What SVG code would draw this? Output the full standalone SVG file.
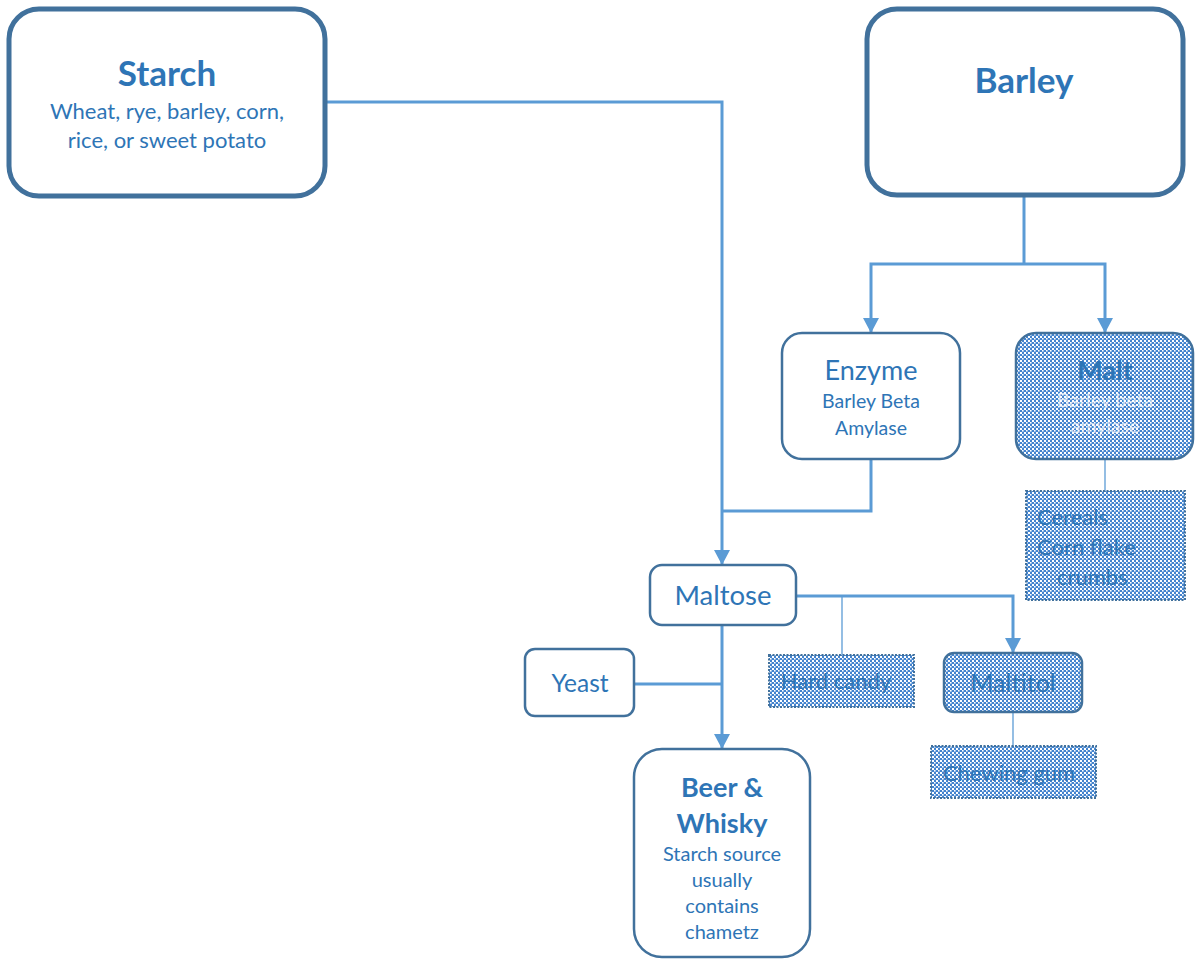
<svg xmlns="http://www.w3.org/2000/svg" width="1195" height="960" viewBox="0 0 1195 960">
  <style>
    .box { fill: #ffffff; stroke: #41719C; }
    .hatch { fill: url(#grid); stroke: #41719C; }
    .dotted { fill: url(#grid); stroke: #41719C; stroke-width: 2; stroke-dasharray: 2 1.5; }
    .t { font-family: Lato, "Liberation Sans", sans-serif; fill: #2E75B6; text-anchor: middle; }
    .s { text-anchor: start; }
    .b { font-weight: bold; }
    .w { fill: #ffffff; fill-opacity: 0.7; }
    .link { fill: none; stroke: #5B9BD5; stroke-width: 3; }
    .thin { fill: none; stroke: #5B9BD5; stroke-width: 1.3; }
  </style>
  <defs>
    <marker id="arrow" markerUnits="userSpaceOnUse" markerWidth="16" markerHeight="16" refX="15" refY="8" orient="auto">
      <path d="M0,0 L15,8 L0,16 z" fill="#5B9BD5"/>
    </marker>
    <!-- small blue/white grid fill -->
    <pattern id="grid" patternUnits="userSpaceOnUse" width="4" height="4">
      <rect width="4" height="4" fill="#4383CE"/>
      <rect x="0" y="0" width="2" height="2" fill="#ffffff"/>
      <rect x="2" y="2" width="1.6" height="1.6" fill="#ffffff"/>
    </pattern>
  </defs>

  <!-- connectors -->
  <g id="connectors">
    <path class="link" d="M325,102 H722 V565" marker-end="url(#arrow)"/>
    <path class="link" d="M871,459 V511 H722"/>
    <path class="link" d="M1024,197 V264"/>
    <path class="link" d="M1024,264 H871 V333" marker-end="url(#arrow)"/>
    <path class="link" d="M1024,264 H1105 V333" marker-end="url(#arrow)"/>
    <path class="link" d="M796,596 H1013 V653" marker-end="url(#arrow)"/>
    <path class="thin" d="M842,596 V655"/>
    <path class="link" d="M722,625 V749" marker-end="url(#arrow)"/>
    <path class="link" d="M634,684 H722"/>
    <path class="thin" d="M1105,459 V491"/>
    <path class="thin" d="M1013,712 V746"/>
  </g>

  <g id="starch">
    <rect class="box" x="9" y="9" width="316" height="187" rx="30" stroke-width="5"/>
    <text class="t b" x="167" y="86" font-size="35">Starch</text>
    <text class="t" x="167" y="119" font-size="22">Wheat, rye, barley, corn,</text>
    <text class="t" x="167" y="148" font-size="22">rice, or sweet potato</text>
  </g>

  <g id="barley">
    <rect class="box" x="867" y="9" width="316" height="186" rx="30" stroke-width="5"/>
    <text class="t b" x="1024" y="93" font-size="35">Barley</text>
  </g>

  <g id="enzyme">
    <rect class="box" x="782" y="333" width="178" height="126" rx="20" stroke-width="2.5"/>
    <text class="t" x="871" y="380" font-size="27">Enzyme</text>
    <text class="t" x="871" y="408" font-size="19.5">Barley Beta</text>
    <text class="t" x="871" y="435" font-size="19.5">Amylase</text>
  </g>

  <g id="malt">
    <rect class="hatch" x="1016" y="333" width="177" height="126" rx="20" stroke-width="2.5"/>
    <text class="t b" x="1105" y="380" font-size="27">Malt</text>
    <text class="t w" x="1105" y="407" font-size="19.5">Barley beta</text>
    <text class="t w" x="1105" y="433" font-size="19.5">amylase</text>
  </g>

  <g id="cereals">
    <rect class="dotted" x="1026" y="491" width="159" height="109"/>
    <text class="t s" x="1037" y="525" font-size="22">Cereals</text>
    <text class="t s" x="1037" y="555" font-size="22">Corn flake</text>
    <text class="t s" x="1057" y="585" font-size="22">crumbs</text>
  </g>

  <g id="maltose">
    <rect class="box" x="650" y="565" width="146" height="60" rx="12" stroke-width="2.5"/>
    <text class="t" x="723" y="605" font-size="27.5">Maltose</text>
  </g>

  <g id="hard-candy">
    <rect class="dotted" x="769" y="655" width="145" height="52"/>
    <text class="t" x="836" y="689" font-size="22">Hard candy</text>
  </g>

  <g id="maltitol">
    <rect class="hatch" x="944" y="653" width="138" height="59" rx="10" stroke-width="2.5"/>
    <text class="t" x="1013" y="692" font-size="25">Maltitol</text>
  </g>

  <g id="chewing-gum">
    <rect class="dotted" x="931" y="746" width="165" height="52"/>
    <text class="t" x="1009" y="781" font-size="22">Chewing gum</text>
  </g>

  <g id="yeast">
    <rect class="box" x="525" y="649" width="109" height="67" rx="10" stroke-width="2.5"/>
    <text class="t" x="580" y="692" font-size="24.5">Yeast</text>
  </g>

  <g id="beer-whisky">
    <rect class="box" x="634" y="749" width="176" height="208" rx="28" stroke-width="2.5"/>
    <text class="t b" x="722" y="797" font-size="27">Beer &amp;</text>
    <text class="t b" x="722" y="833" font-size="27">Whisky</text>
    <text class="t" x="722" y="861" font-size="20">Starch source</text>
    <text class="t" x="722" y="887" font-size="20">usually</text>
    <text class="t" x="722" y="913" font-size="20">contains</text>
    <text class="t" x="722" y="939" font-size="20">chametz</text>
  </g>
</svg>
